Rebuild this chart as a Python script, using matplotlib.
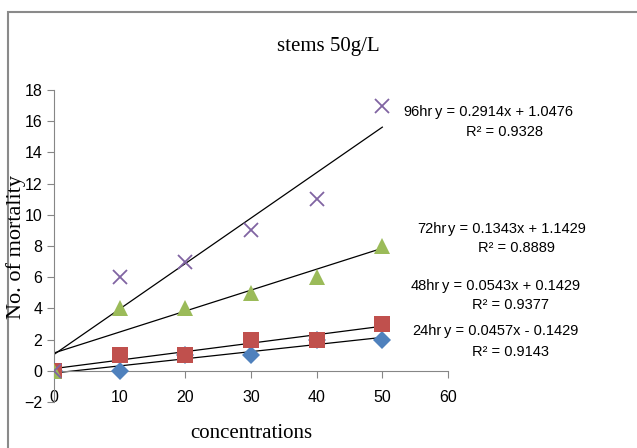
"""
stems 50g/L 死亡數散佈圖與趨勢線
"""

import numpy as np
import matplotlib
matplotlib.use('Agg')
import matplotlib.pyplot as plt
from matplotlib.patches import Rectangle
from matplotlib import font_manager as fm

# 資料
concentrations = [0, 10, 20, 30, 40, 50]
mort_24hr = [0, 0, 1, 1, 2, 2]
mort_48hr = [0, 1, 1, 2, 2, 3]
mort_72hr = [0, 4, 4, 5, 6, 8]
mort_96hr = [0, 6, 7, 9, 11, 17]

x_ticks = [0, 10, 20, 30, 40, 50, 60]
y_ticks = [-2, 0, 2, 4, 6, 8, 10, 12, 14, 16, 18]

# 字型
names = {f.name for f in fm.fontManager.ttflist}
narrow = 'Liberation Sans Narrow' if 'Liberation Sans Narrow' in names else 'Liberation Sans'
serif = 'Liberation Serif'

W, H = 637, 448
fig = plt.figure(figsize=(W / 100, H / 100), dpi=100)
ax = fig.add_axes([54 / W, 46 / H, 394 / W, 312 / H])

series = [
    ('24hr', mort_24hr, 'D', '#4F81BD', 9),
    ('48hr', mort_48hr, 's', '#C0504D', 11),
    ('72hr', mort_72hr, '^', '#9BBB59', 11.5),
    ('96hr', mort_96hr, 'x', '#8064A2', 10),
]

xs = np.array(concentrations, dtype=float)
fits = {}
for name, ys, marker, color, ms in series:
    ys = np.array(ys, dtype=float)
    slope, intercept = np.polyfit(xs, ys, 1)
    pred = slope * xs + intercept
    r2 = 1 - np.sum((ys - pred) ** 2) / np.sum((ys - ys.mean()) ** 2)
    fits[name] = (slope, intercept, r2)
    if marker == 'x':
        ax.plot(xs, ys, linestyle='none', marker=marker, color=color,
                markersize=ms, markeredgewidth=1.3, zorder=3)
    else:
        ax.plot(xs, ys, linestyle='none', marker=marker, color=color,
                markersize=ms, markeredgewidth=0, zorder=3)
    ax.plot([xs[0], xs[-1]], [slope * xs[0] + intercept, slope * xs[-1] + intercept],
            color='black', linewidth=0.9, zorder=2)

ax.set_xlim(0, 60)
ax.set_ylim(-2, 18)
ax.set_xticks(x_ticks)
ax.set_yticks(y_ticks)

for side in ['top', 'right']:
    ax.spines[side].set_visible(False)
ax.spines['bottom'].set_position(('data', 0))
for side in ['left', 'bottom']:
    ax.spines[side].set_color('#868686')
    ax.spines[side].set_linewidth(0.8)
ax.tick_params(axis='both', direction='out', length=5, color='#868686', width=0.8,
               labelsize=11.5)
ax.tick_params(axis='x', pad=9)
for lab in ax.get_xticklabels() + ax.get_yticklabels():
    lab.set_family(narrow)

fig.text(251 / W, 1 - 433 / H, 'concentrations', family=serif, fontsize=15,
         ha='center', va='center')
fig.text(16 / W, 1 - 247 / H, 'No. of mortality', family=serif, fontsize=16,
         rotation=90, ha='center', va='center')
fig.text(328 / W, 1 - 47 / H, 'stems 50g/L', family=serif, fontsize=15,
         ha='center', va='center')

# 趨勢線標籤：方程式中心 x、方程式 y、R² y
label_pos = {
    '96hr': (504, 112, 132),
    '72hr': (517, 229, 248),
    '48hr': (511, 286, 305),
    '24hr': (511, 331, 352),
}
eq_size = 10.5
for name, (cx, y1, y2) in label_pos.items():
    slope, intercept, r2 = fits[name]
    sign = '+' if intercept >= 0 else '-'
    t = fig.text(cx / W, 1 - y1 / H, f'y = {slope:.4f}x {sign} {abs(intercept):.4f}',
                 family=narrow, fontsize=eq_size, ha='center', va='center')
    fig.text(cx / W, 1 - y2 / H, f'R² = {r2:.4f}', family=narrow, fontsize=eq_size,
             ha='center', va='center')
    # 名稱放在方程式左邊
    fig.canvas.draw()
    bb = t.get_window_extent()
    fig.text((bb.x0 - 2) / W, 1 - y1 / H, name, family=narrow, fontsize=eq_size,
             ha='right', va='center')

# 圖表外框
fig.patches.append(Rectangle((8 / W, -0.5), 2, 0.5 + 1 - 12 / H,
                             transform=fig.transFigure, fill=False,
                             edgecolor='#8A8A8A', linewidth=1.5))

fig.savefig('out.png', dpi=100)
